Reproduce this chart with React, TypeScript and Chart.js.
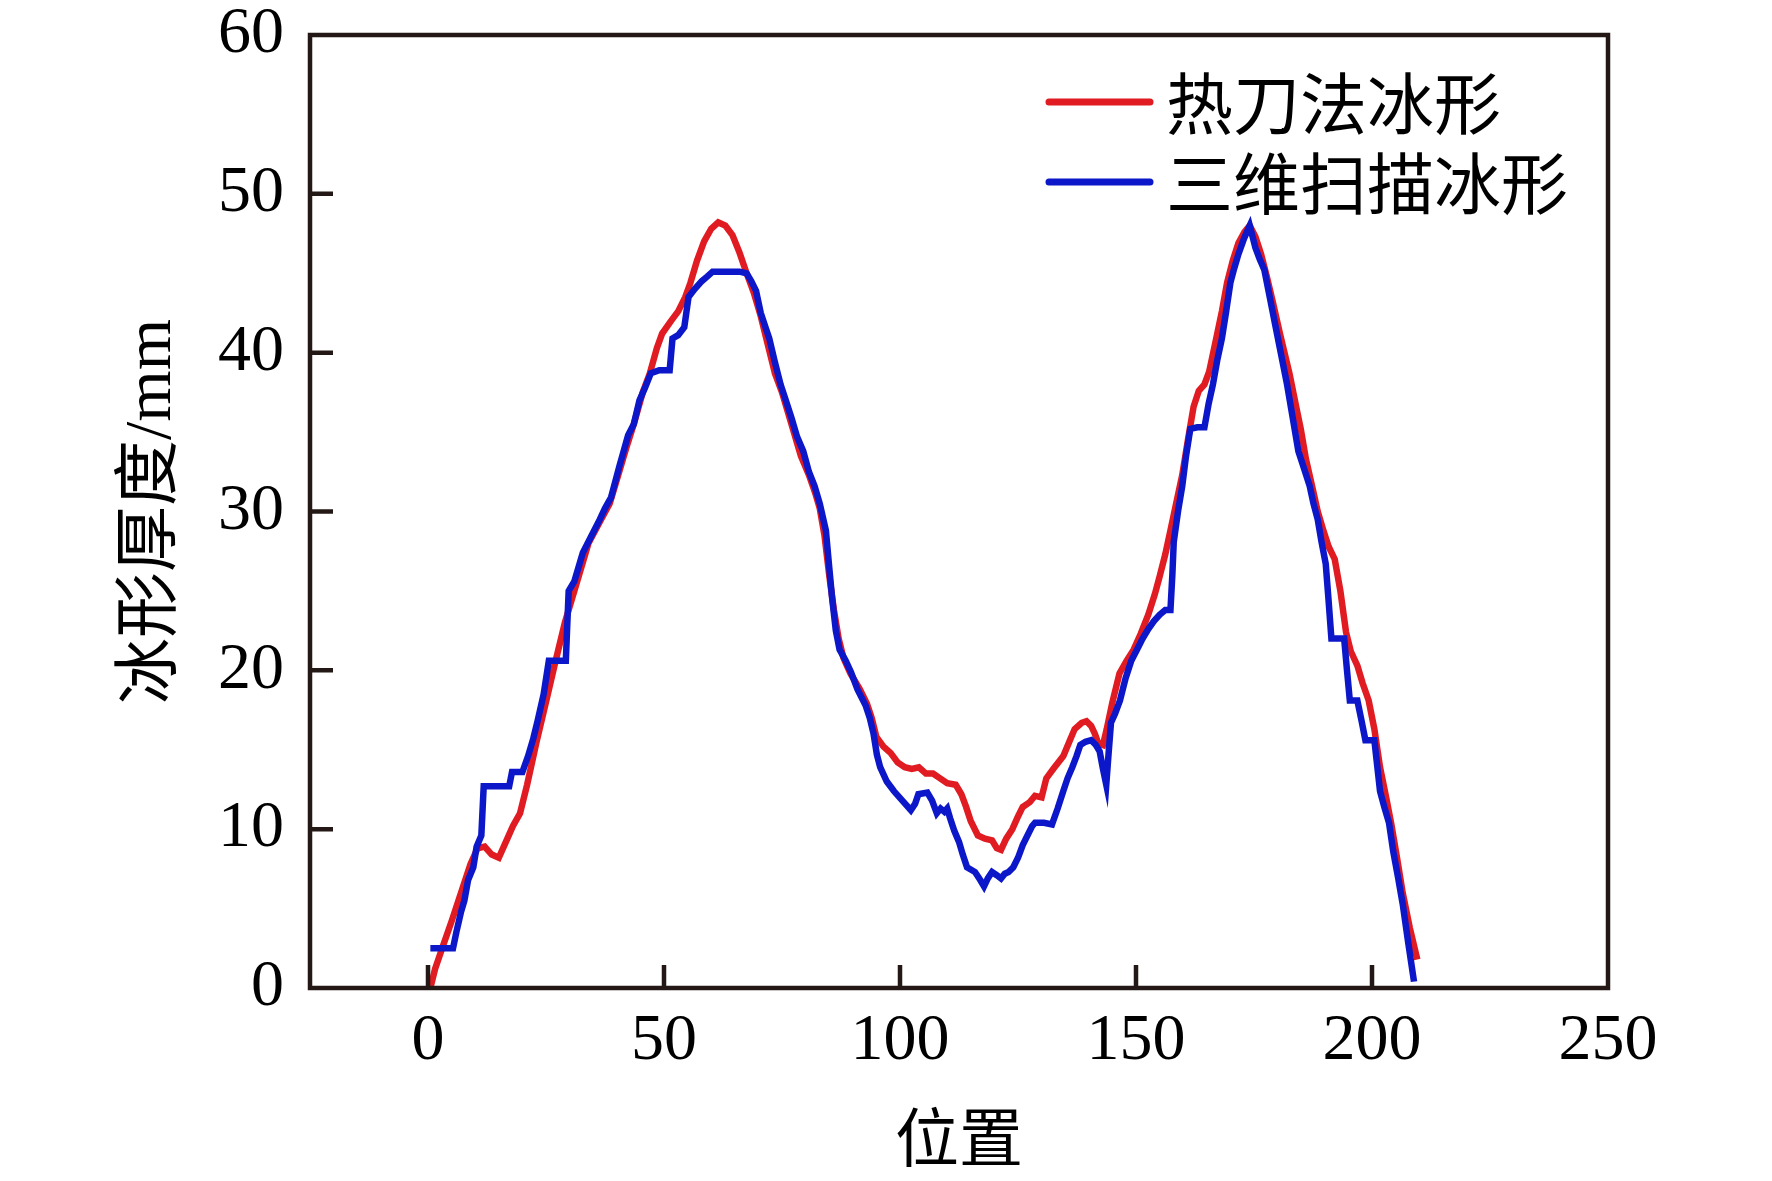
import React, { useEffect, useRef } from 'react';
import { Chart, registerables } from 'chart.js';

Chart.register(...registerables);

// 热刀法冰形 (red)
const hotKnifeX = [0.5, 1.5, 3, 5, 7, 9, 10.5, 12, 13.5, 15, 16.5, 18, 19.5, 21, 23, 25, 26.8, 29, 31.5, 34, 36.5, 38.5, 40, 42, 43.6, 45.5, 47, 48.5, 49.6, 51.5, 53, 54.5, 55.6, 57, 58.5, 60, 61.5, 63, 64.5, 66, 67.5, 69, 70.5, 72, 73.5, 75, 77, 79, 80.7, 82, 83, 84, 85, 86, 87, 88, 89.5, 91.5, 93, 94, 95, 96.5, 98, 99.5, 101, 102.5, 104, 105.5, 107, 108.5, 110, 111.8, 113, 114, 115, 116.5, 118, 119.5, 120.5, 121.4, 122.5, 123.8, 125, 126, 127.5, 128.6, 130, 131, 132.5, 134.6, 136, 137, 138.5, 139.5, 140.5, 141.3, 142, 143, 143.8, 145, 146.5, 148, 149.5, 151, 152.6, 154, 155, 156.2, 157.3, 158.5, 159.8, 161, 162.2, 163.3, 164.5, 165.5, 167, 168.2, 169.3, 170.5, 171.7, 173, 174.1, 175.3, 176.5, 177.7, 178.9, 180.5, 182.5, 184, 184.9, 186, 187.3, 188.5, 189.7, 190.8, 192.1, 193.3, 194.5, 195.5, 196.9, 198, 199.3, 200.5, 201.7, 203, 204.1, 205.3, 206.5, 208, 209.6];
const hotKnifeY = [0, 1.2, 2.5, 4.2, 6, 7.8, 8.8, 8.9, 8.4, 8.2, 9.2, 10.2, 11, 12.8, 15.5, 18, 20.3, 23, 25.5, 28, 29.4, 30.5, 32, 34, 35.5, 37.5, 38.7, 40.3, 41.2, 42, 42.6, 43.5, 44.4, 45.8, 47, 47.8, 48.2, 48, 47.4, 46.3, 45, 43.8, 42.3, 40.5, 38.7, 37.5, 35.5, 33.5, 32.3, 31.2, 30.2, 28.5, 26, 23.8, 22, 20.8, 19.8, 18.8, 17.9, 17, 15.8, 15.2, 14.8, 14.2, 13.9, 13.8, 13.9, 13.5, 13.5, 13.2, 12.9, 12.8, 12.2, 11.4, 10.5, 9.6, 9.4, 9.3, 8.8, 8.7, 9.4, 10, 10.8, 11.4, 11.7, 12.1, 12, 13.2, 13.8, 14.6, 15.6, 16.3, 16.7, 16.8, 16.5, 16, 15.4, 15.3, 16.3, 18, 19.8, 20.6, 21.3, 22.3, 23.5, 24.8, 25.9, 27.3, 28.8, 30.5, 32.3, 34.5, 36.6, 37.6, 38, 38.8, 40.9, 42.6, 44.4, 45.8, 46.9, 47.6, 48, 47.3, 46.2, 44.8, 43.3, 41.2, 38.7, 36.5, 35.2, 33.3, 31.6, 30, 28.8, 27.8, 27, 25, 22.4, 21.2, 20.3, 19.2, 18.1, 16.3, 13.9, 12, 10.3, 8.2, 6, 3.8, 1.8];

// 三维扫描冰形 (blue)
const scanX = [0.5, 5.3, 6, 7, 7.7, 8.5, 9.6, 10.3, 11.3, 11.8, 14, 17.2, 17.8, 20, 21.2, 22.3, 23.2, 24.5, 25.6, 27, 29.2, 29.8, 31, 32.8, 34.5, 36.4, 37.5, 38.8, 40.5, 42.4, 43.6, 44.8, 46, 47.2, 49, 51.2, 51.8, 53, 54.3, 55.2, 56.5, 58, 59.2, 60.3, 63, 66, 67.5, 68.5, 69.5, 70.5, 71.5, 72.3, 73.5, 74.7, 75.8, 77, 78.2, 79.5, 80.7, 81.9, 83, 84.3, 85, 85.6, 86.4, 87.2, 88.5, 89.6, 91, 92.7, 93.6, 94.4, 95.1, 95.8, 97.2, 98.7, 100.5, 102.3, 103.2, 103.9, 105.8, 106.8, 107.8, 108.6, 109.4, 110, 110.6, 111.5, 112.5, 113.3, 114.2, 115.9, 117, 117.8, 118.6, 119.5, 120.5, 121.4, 122.2, 123, 124, 125, 126, 127, 128, 128.6, 130.5, 132.2, 133.4, 134.6, 135.5, 136.5, 137.4, 138.2, 139.3, 140.5, 141.5, 142.3, 143, 143.7, 144.2, 144.7, 145.6, 146.6, 147.8, 149, 150.2, 151.4, 152.6, 153.8, 155, 156.2, 157.3, 157.7, 158, 158.9, 159.8, 160.6, 161.5, 163, 164.5, 165.4, 166.3, 167.2, 168.2, 169.1, 170, 170.8, 171.7, 172.9, 174.1, 174.7, 175.3, 176.2, 177.2, 178.4, 179.6, 180.8, 182, 183.2, 184.4, 185.6, 186.8, 187.6, 188.5, 189.3, 190.2, 190.8, 191.4, 192.8, 194.1, 194.7, 195.3, 196.9, 197.8, 198.6, 200.5, 201.1, 201.7, 202.6, 203.6, 204.5, 205.5, 206.5, 207.7, 208.9];
const scanY = [2.5, 2.5, 3.5, 4.8, 5.5, 6.8, 7.6, 8.9, 9.6, 12.7, 12.7, 12.7, 13.6, 13.6, 14.6, 15.7, 16.8, 18.5, 20.6, 20.6, 20.6, 25, 25.6, 27.4, 28.4, 29.5, 30.2, 30.9, 32.8, 34.8, 35.5, 37, 37.8, 38.7, 38.9, 38.9, 40.9, 41.1, 41.6, 43.5, 44, 44.5, 44.8, 45.1, 45.1, 45.1, 45, 44.5, 43.9, 42.5, 41.6, 40.9, 39.4, 38, 37, 35.9, 34.7, 33.8, 32.5, 31.6, 30.5, 28.8, 26.5, 24.6, 22.5, 21.3, 20.6, 19.9, 18.8, 17.8, 17, 16, 14.7, 13.9, 13, 12.4, 11.8, 11.2, 11.6, 12.2, 12.3, 11.8, 11, 11.3, 11.1, 11.3, 10.7, 9.9, 9.2, 8.4, 7.6, 7.3, 6.8, 6.4, 6.9, 7.3, 7.1, 6.9, 7.2, 7.3, 7.6, 8.2, 9, 9.6, 10.2, 10.4, 10.4, 10.3, 11.3, 12.4, 13.2, 13.9, 14.6, 15.3, 15.5, 15.6, 15.3, 14.9, 13.8, 12.8, 14.8, 16.7, 17.3, 18.1, 19.5, 20.6, 21.3, 22, 22.6, 23.1, 23.5, 23.8, 23.8, 26, 28.1, 30, 31.6, 33.5, 35.2, 35.3, 35.3, 36.8, 38, 39.5, 40.9, 42.6, 44.4, 45.3, 46.2, 47.2, 48, 47.3, 46.6, 45.9, 45.2, 43.4, 41.6, 39.8, 38, 35.9, 33.8, 32.7, 31.6, 30.5, 29.5, 28.1, 26.7, 24.4, 22, 22, 22, 20, 18.1, 18.1, 16.8, 15.6, 15.6, 14, 12.4, 11.4, 10.4, 8.6, 7, 5.3, 2.8, 0.4];

const seriesNames = ['热刀法冰形', '三维扫描冰形'];
const xTicks = [0, 50, 100, 150, 200, 250];
const yTicks = [0, 10, 20, 30, 40, 50, 60];

const RED = '#E01B22';
const BLUE = '#0B17C9';
const INK = '#231815';
const SERIF = "'Liberation Serif', 'Times New Roman', serif";
const CJK = "'Liberation Serif', 'Noto Sans CJK SC', serif";

const toPoints = (xs: number[], ys: number[]) => xs.map((x, i) => ({ x, y: ys[i] }));

// frame, inward ticks and legend
const framePlugin = {
  id: 'frame',
  afterDraw(chart: any) {
    const { ctx, chartArea: a, scales } = chart;
    ctx.save();
    ctx.strokeStyle = INK;
    ctx.lineWidth = 4.5;
    ctx.lineCap = 'butt';
    ctx.beginPath();
    scales.x.ticks.forEach((t: any) => {
      if (t.value <= scales.x.min || t.value >= scales.x.max) return;
      const px = scales.x.getPixelForValue(t.value);
      ctx.moveTo(px, a.bottom);
      ctx.lineTo(px, a.bottom - 23);
    });
    scales.y.ticks.forEach((t: any) => {
      if (t.value <= scales.y.min || t.value >= scales.y.max) return;
      const py = scales.y.getPixelForValue(t.value);
      ctx.moveTo(a.left, py);
      ctx.lineTo(a.left + 23, py);
    });
    ctx.stroke();
    ctx.strokeRect(a.left, a.top, a.right - a.left, a.bottom - a.top);

    const colors = [RED, BLUE];
    const rows = [a.top + 67, a.top + 147];
    const lx = a.right - 559;
    ctx.lineCap = 'round';
    ctx.lineWidth = 7;
    ctx.font = "67px 'Noto Sans CJK SC', sans-serif";
    ctx.textBaseline = 'middle';
    ctx.textAlign = 'left';
    seriesNames.forEach((name, i) => {
      ctx.strokeStyle = colors[i];
      ctx.beginPath();
      ctx.moveTo(lx, rows[i]);
      ctx.lineTo(lx + 101, rows[i]);
      ctx.stroke();
      ctx.fillStyle = '#000';
      ctx.fillText(name, lx + 117, rows[i] + 2);
    });
    ctx.restore();
  },
};

const App: React.FC = () => {
  const canvasRef = useRef<HTMLCanvasElement | null>(null);

  useEffect(() => {
    if (!canvasRef.current) return;
    const chart = new Chart(canvasRef.current, {
      type: 'line',
      data: {
        datasets: [
          {
            label: seriesNames[0],
            data: toPoints(hotKnifeX, hotKnifeY),
            borderColor: RED,
            backgroundColor: RED,
            borderWidth: 6.5,
            pointRadius: 0,
            tension: 0,
            order: 1,
          },
          {
            label: seriesNames[1],
            data: toPoints(scanX, scanY),
            borderColor: BLUE,
            backgroundColor: BLUE,
            borderWidth: 6.5,
            pointRadius: 0,
            tension: 0,
            order: 0,
          },
        ],
      },
      options: {
        animation: false,
        responsive: true,
        maintainAspectRatio: false,
        layout: { padding: { top: 35, right: 164, left: 0, bottom: 0 } },
        plugins: { legend: { display: false }, tooltip: { enabled: false } },
        scales: {
          x: {
            type: 'linear',
            min: -25,
            max: 250,
            afterBuildTicks: (s: any) => {
              s.ticks = xTicks.map((v) => ({ value: v }));
            },
            afterFit: (s: any) => {
              s.height = 193;
            },
            grid: { display: false, drawTicks: false, tickLength: 0 },
            border: { display: false },
            ticks: {
              color: '#000',
              padding: 21,
              maxRotation: 0,
              font: { family: SERIF, size: 66, lineHeight: 1 },
            },
            title: {
              display: true,
              text: '位置',
              color: '#000',
              padding: { top: 0, bottom: 0 },
              font: { family: CJK, size: 64, lineHeight: 1.15 },
            },
          },
          y: {
            type: 'linear',
            min: 0,
            max: 60,
            afterBuildTicks: (s: any) => {
              s.ticks = yTicks.map((v) => ({ value: v }));
            },
            afterFit: (s: any) => {
              s.width = 310;
              s.paddingTop = 0;
              s.paddingBottom = 0;
            },
            grid: { display: false, drawTicks: false, tickLength: 0 },
            border: { display: false },
            ticks: {
              color: '#000',
              padding: 26,
              font: { family: SERIF, size: 66, lineHeight: 1 },
            },
            title: {
              display: true,
              text: '冰形厚度/mm',
              color: '#000',
              padding: { top: 113, bottom: 0 },
              font: { family: CJK, size: 66 },
            },
          },
        },
      },
      plugins: [framePlugin],
    });
    return () => chart.destroy();
  }, []);

  return (
    <div style={{ position: 'fixed', left: 0, top: 0, width: 1772, height: 1181, background: '#fff' }}>
      <canvas ref={canvasRef}></canvas>
    </div>
  );
};

export default App;
